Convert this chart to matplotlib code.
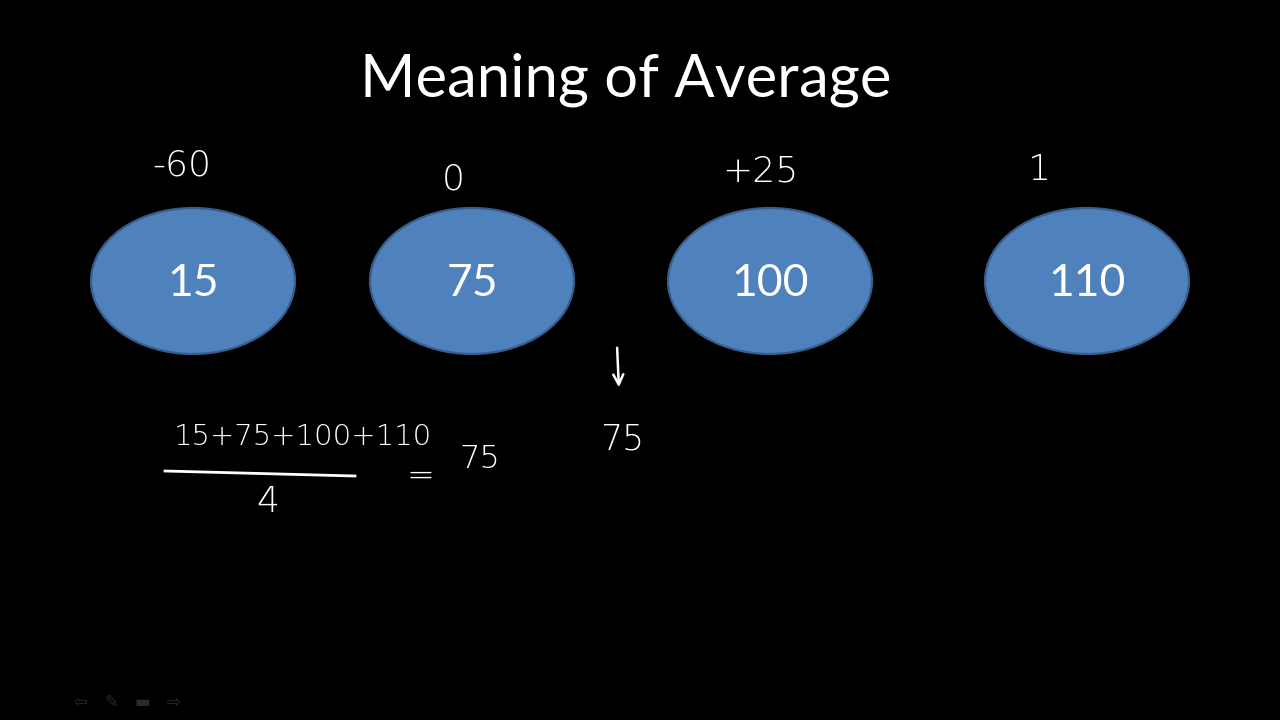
import matplotlib
matplotlib.use("Agg")
import matplotlib.pyplot as plt
from matplotlib.patches import Ellipse

# slide content
title = "Meaning of Average"
values = [15, 75, 100, 110]
centers_x = [193, 472, 770, 1087]
deviation_labels = ["-60", "0", "+25", "1"]
deviation_pos = [(182, 166), (453, 180), (760, 172), (1040, 170)]
mean_value = sum(values) / len(values)

fig = plt.figure(figsize=(12.8, 7.2), dpi=100, facecolor="black")
ax = fig.add_axes([0, 0, 1, 1])
ax.set_xlim(0, 1280)
ax.set_ylim(720, 0)
ax.set_facecolor("black")
ax.axis("off")

ax.text(626, 80, title, color="white", fontsize=43, family="Lato",
        ha="center", va="center")

for cx, v in zip(centers_x, values):
    e = Ellipse((cx, 281), 204, 146, facecolor="#4F81BD",
                edgecolor="#385D8A", linewidth=1.6)
    ax.add_patch(e)
    ax.text(cx, 284, str(v), color="white", fontsize=32, family="Lato",
            ha="center", va="center")

# handwritten bits
hand = dict(color="white", family="DejaVu Sans", fontweight="light",
            ha="center", va="center")
for lab, (x, y) in zip(deviation_labels, deviation_pos):
    ax.text(x, y, lab, fontsize=26, **hand)

formula = "+".join(str(v) for v in values)
ax.text(303, 437, formula, fontsize=21, **hand)
ax.plot([165, 355], [471, 476], color="white", lw=2)
ax.text(268, 502, str(len(values)), fontsize=26, **hand)
ax.text(420, 476, "=", fontsize=24, **hand)
ax.text(480, 459, "%d" % mean_value, fontsize=23, **hand)

ax.annotate("", xy=(619, 390), xytext=(617, 345),
            arrowprops=dict(arrowstyle="->", color="white", lw=1.8,
                            mutation_scale=18))
ax.text(622, 440, "%d" % mean_value, fontsize=25, **hand)

# faint presenter toolbar
for x, s in zip([80, 111, 142, 173], ["\u21e6", "\u270e", "\u25ac", "\u21e8"]):
    ax.text(x, 702, s, color="#2a2a2a", fontsize=12, family="DejaVu Sans",
            ha="center", va="center")

fig.savefig("out.png", dpi=100, facecolor="black")
